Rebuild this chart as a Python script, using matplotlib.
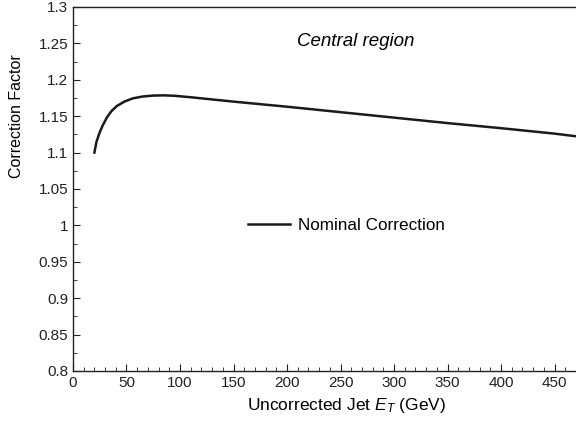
import matplotlib.pyplot as plt
from matplotlib.ticker import MultipleLocator

plt.rcParams['font.family'] = ['Liberation Sans', 'DejaVu Sans']
plt.rcParams['mathtext.fontset'] = 'custom'
plt.rcParams['mathtext.it'] = 'Liberation Sans:italic'
plt.rcParams['mathtext.rm'] = 'Liberation Sans'

# Nominal correction curve
et = [20, 22, 25, 28, 32, 36, 41, 48, 56, 65, 75, 85, 95, 110, 130, 150, 175,
      200, 250, 300, 350, 400, 450, 475]
corr = [1.100, 1.115, 1.128, 1.138, 1.149, 1.157, 1.164, 1.170, 1.1745, 1.177,
        1.1783, 1.1786, 1.178, 1.176, 1.1730, 1.1700, 1.1665,
        1.1630, 1.1555, 1.1480, 1.1405, 1.1335, 1.1260, 1.1215]

fig = plt.figure(figsize=(5.76, 4.23), dpi=100)
ax = fig.add_axes([0.1267, 0.123, 0.8733, 0.8605])

ax.plot(et, corr, color='#1a1a1a', lw=1.8, label='Nominal Correction')

ax.set_xlim(0, 470)
ax.set_ylim(0.8, 1.3)
ax.xaxis.set_major_locator(MultipleLocator(50))
ax.xaxis.set_minor_locator(MultipleLocator(10))
ax.yaxis.set_major_locator(MultipleLocator(0.05))
ax.yaxis.set_minor_locator(MultipleLocator(0.025))
ax.yaxis.set_major_formatter(plt.FuncFormatter(lambda v, p: ('%.2f' % v).rstrip('0').rstrip('.')))
ax.tick_params(which='both', direction='in', top=False, right=False, labelsize=11, colors='#222222')
ax.tick_params(which='major', length=5)
ax.tick_params(which='minor', length=3)
ax.spines['right'].set_visible(False)
for s in ['left', 'bottom', 'top']:
    ax.spines[s].set_color('#222222')
    ax.spines[s].set_linewidth(1.0)

ax.set_xlabel('Uncorrected Jet $E_T$ (GeV)', fontsize=12.5)
ax.xaxis.set_label_coords(0.543, -0.068)
ax.set_ylabel('Correction Factor', fontsize=11.5)
ax.yaxis.set_label_coords(-0.097, 0.70)

ax.text(0.563, 0.904, 'Central region', transform=ax.transAxes, fontsize=13.5,
        style='italic', ha='center', va='center')
ax.legend(loc='center left', bbox_to_anchor=(0.348, 0.40), frameon=False, fontsize=12.3,
          handlelength=2.45, handletextpad=0.5, borderpad=0, borderaxespad=0)

fig.savefig('out.png', dpi=100)
